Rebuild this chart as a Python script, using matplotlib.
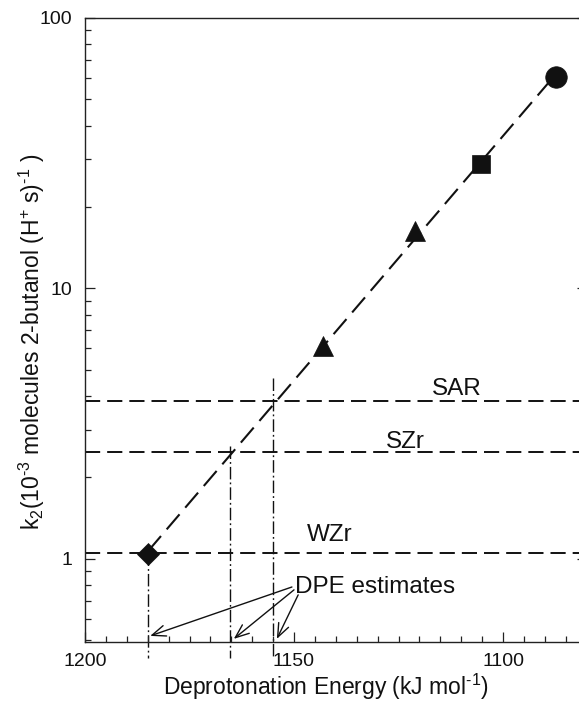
import numpy as np
import matplotlib
matplotlib.use("Agg")
import matplotlib.pyplot as plt
from matplotlib.ticker import LogLocator, MultipleLocator, FuncFormatter, NullFormatter

plt.rcParams['font.family'] = ['Liberation Sans', 'DejaVu Sans']
plt.rcParams['mathtext.fontset'] = 'custom'
plt.rcParams['mathtext.rm'] = 'Liberation Sans'
plt.rcParams['mathtext.it'] = 'Liberation Sans'
plt.rcParams['mathtext.default'] = 'regular'

# ---- data ----
dpe = [1184.9, 1143.1, 1121.1, 1105.3, 1087.3]        # kJ/mol
k2 = [1.046, 6.10, 16.3, 28.8, 60.3]
markers = ['D', '^', '^', 's', 'o']
marker_sizes = [11.5, 14.5, 14.5, 13.5, 15.5]

ref_names = ['SAR', 'SZr', 'WZr']
ref_k2 = [3.82, 2.49, 1.05]
ref_dpe = [1155.0, 1165.3, 1184.9]
ref_vtop = [4.68, 2.62, 1.05]
ref_label_x = [1111.0, 1123.4, 1141.4]
ref_label_y = [4.02, 2.58, 1.16]

x_ticks = [1200, 1150, 1100]
y_ticks = [1, 10, 100]

arrow_ends_x = [1184.4, 1164.4, 1154.1]
arrow_ends_y = [0.519, 0.506, 0.506]
arrow_starts_x = [1150.5, 1150.0, 1149.0]
arrow_starts_y = [0.787, 0.768, 0.736]

INK = '#111111'

fig = plt.figure(figsize=(5.79, 7.03), dpi=100)
ax = fig.add_axes([85 / 579, 61 / 703, 501.6 / 579, 624 / 703])
ax.set_yscale('log')
ax.set_xlim(1200, 1080)
ax.set_ylim(0.4927, 100)

# regression line (fit in log space)
coef = np.polyfit(dpe, np.log10(k2), 1)
xf = np.array([max(dpe), min(dpe)])
yf = 10 ** np.polyval(coef, xf)
ax.plot(xf, yf, color=INK, lw=1.5, dashes=(9.5, 4.2), zorder=2)

# reference horizontal lines
for yv in ref_k2:
    ax.axhline(yv, color=INK, lw=1.4, dashes=(7.8, 3.6), zorder=1)

# vertical dash-dot lines
for xv, yt in zip(ref_dpe, ref_vtop):
    ax.plot([xv, xv], [yt, 0.43], color=INK, lw=1.0,
            dashes=(9.0, 2.2, 1.3, 2.2), clip_on=False, zorder=1)

# data markers
for xv, yv, m, ms in zip(dpe, k2, markers, marker_sizes):
    ax.plot([xv], [yv], marker=m, ms=ms, color=INK, mec=INK, mew=0.5,
            ls='none', zorder=4)

# reference labels
for name, lx, ly in zip(ref_names, ref_label_x, ref_label_y):
    ax.text(lx, ly, name, ha='center', va='baseline', fontsize=17.5, color=INK)

ax.text(1149.8, 0.750, 'DPE estimates', ha='left', va='baseline',
        fontsize=17.5, color=INK)
for sx, sy, ex, ey in zip(arrow_starts_x, arrow_starts_y, arrow_ends_x, arrow_ends_y):
    ax.annotate('', xy=(ex, ey), xytext=(sx, sy),
                arrowprops=dict(arrowstyle='->,head_length=0.7,head_width=0.28',
                                mutation_scale=14, color=INK, lw=1.0,
                                shrinkA=0, shrinkB=0))

# axes styling
ax.xaxis.set_major_locator(MultipleLocator(50))
ax.xaxis.set_minor_locator(MultipleLocator(5))
ax.set_xticks(x_ticks)
ax.yaxis.set_major_locator(LogLocator(base=10))
ax.yaxis.set_minor_locator(LogLocator(base=10, subs=np.arange(2, 10)))
ax.set_yticks(y_ticks)
ax.yaxis.set_major_formatter(FuncFormatter(lambda v, p: '%g' % v))
ax.yaxis.set_minor_formatter(NullFormatter())
ax.tick_params(which='both', direction='in', top=False, right=True,
               color='#222222', width=0.9)
ax.tick_params(which='major', length=7.2, labelsize=14, labelcolor=INK)
ax.tick_params(axis='x', which='major', pad=8)
ax.tick_params(axis='y', which='major', pad=9)
ax.tick_params(which='minor', length=4.3)
for sp in ax.spines.values():
    sp.set_color('#222222')
    sp.set_linewidth(1.0)

ax.set_xlabel(r'Deprotonation Energy (kJ mol$^{\text{-}1}$)', fontsize=16.5, color=INK)
ax.set_ylabel(r'k$_{2}$(10$^{\text{-}3}$ molecules 2-butanol (H$^{+}$ s)$^{\text{-}1}$ )',
              fontsize=16.5, color=INK)
ax.xaxis.set_label_coords(0.4805, -0.048)
ax.yaxis.set_label_coords(-0.076, 0.481)

fig.savefig('out.png', dpi=100)
